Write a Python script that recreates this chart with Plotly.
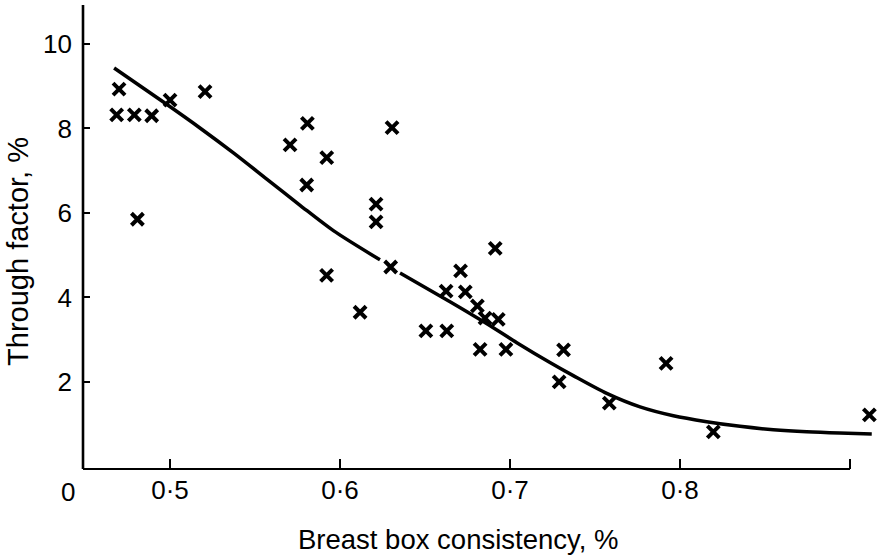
import plotly.graph_objects as go

# Scatter data (breast box consistency, %  vs  through factor, %)
pts_x = [0.470, 0.4686, 0.479, 0.4892, 0.500, 0.5206, 0.4808, 0.5706, 0.5808, 0.5922,
         0.5804, 0.6306, 0.6212, 0.6212, 0.5921, 0.6298, 0.6118, 0.6505, 0.6628, 0.6624,
         0.6709, 0.6737, 0.6808, 0.6853, 0.6931, 0.6913, 0.6824, 0.6976, 0.7315, 0.7289,
         0.7584, 0.7918, 0.8196, 0.9114]
pts_y = [8.93, 8.32, 8.32, 8.30, 8.67, 8.87, 5.85, 7.61, 8.12, 7.31,
         6.66, 8.02, 6.21, 5.79, 4.52, 4.72, 3.65, 3.21, 3.21, 4.15,
         4.63, 4.13, 3.80, 3.51, 3.48, 5.16, 2.77, 2.77, 2.76, 2.00,
         1.50, 2.44, 0.82, 1.22]

# Fitted curve, with a small break near 0.63
curve_x = [0.4671, 0.498, 0.5176, 0.5373, 0.5569, 0.5765, 0.5961, 0.6235, None,
           0.6353, 0.6647, 0.6843, 0.704, 0.7235, 0.7372, 0.7569, 0.7765, 0.7961,
           0.8157, 0.8353, 0.8549, 0.8745, 0.894, 0.9128]
curve_y = [9.43, 8.57, 8.01, 7.42, 6.80, 6.18, 5.58, 4.89, None,
           4.58, 3.90, 3.43, 2.93, 2.46, 2.15, 1.73, 1.41, 1.20,
           1.06, 0.95, 0.87, 0.82, 0.79, 0.77]

x_tickvals = [0.5, 0.6, 0.7, 0.8, 0.9]
x_ticktext = ["0·5", "0·6", "0·7", "0·8", ""]
y_tickvals = [2, 4, 6, 8, 10]
y_ticktext = ["2", "4", "6", "8", "10"]

x_title = "Breast box consistency, %"
y_title = "Through factor, %"

XMIN, XMAX = 0.4488, 0.9153
YMIN, YMAX = -0.06, 10.92
FONT = "Liberation Sans, Arial, sans-serif"

fig = go.Figure()
fig.add_trace(go.Scatter(
    x=curve_x, y=curve_y, mode="lines", connectgaps=False,
    line=dict(color="black", width=3.5, shape="spline", smoothing=0.8),
    hoverinfo="skip", showlegend=False))
fig.add_trace(go.Scatter(
    x=pts_x, y=pts_y, mode="markers", cliponaxis=False,
    marker=dict(symbol="x-thin", size=12, line=dict(color="black", width=4)),
    showlegend=False))

# axis lines
fig.add_shape(type="line", xref="x", yref="paper", x0=XMIN, x1=0.9, y0=0, y1=0,
              line=dict(color="black", width=2.2))
fig.add_shape(type="line", xref="paper", yref="paper", x0=0, x1=0, y0=0, y1=1,
              line=dict(color="black", width=2.6))

fig.add_annotation(text="0", xref="paper", yref="paper", x=-0.0185, y=-0.05,
                   xanchor="center", yanchor="middle", showarrow=False,
                   font=dict(size=26, color="black", family=FONT))
fig.add_annotation(text=x_title, xref="paper", yref="paper", x=0.4729, y=-0.153,
                   xanchor="center", yanchor="middle", showarrow=False,
                   font=dict(size=27.5, color="black", family=FONT))
fig.add_annotation(text=y_title, xref="paper", yref="paper", x=-0.082, y=0.47,
                   xanchor="center", yanchor="middle", showarrow=False, textangle=-90,
                   font=dict(size=29, color="black", family=FONT))

fig.update_xaxes(range=[XMIN, XMAX], showgrid=False, zeroline=False, showline=False,
                 tickvals=x_tickvals, ticktext=x_ticktext, ticks="inside", ticklen=10,
                 tickwidth=2, tickcolor="black", ticklabelstandoff=3,
                 tickfont=dict(size=26, color="black", family=FONT))
fig.update_yaxes(range=[YMIN, YMAX], showgrid=False, zeroline=False, showline=False,
                 tickvals=y_tickvals, ticktext=y_ticktext, ticks="inside", ticklen=7,
                 tickwidth=2, tickcolor="black", ticklabelstandoff=10,
                 tickfont=dict(size=26, color="black", family=FONT))

fig.update_layout(width=882, height=555, margin=dict(l=83, r=6, t=5, b=86),
                  plot_bgcolor="white", paper_bgcolor="white")

fig.write_html("out.html")
